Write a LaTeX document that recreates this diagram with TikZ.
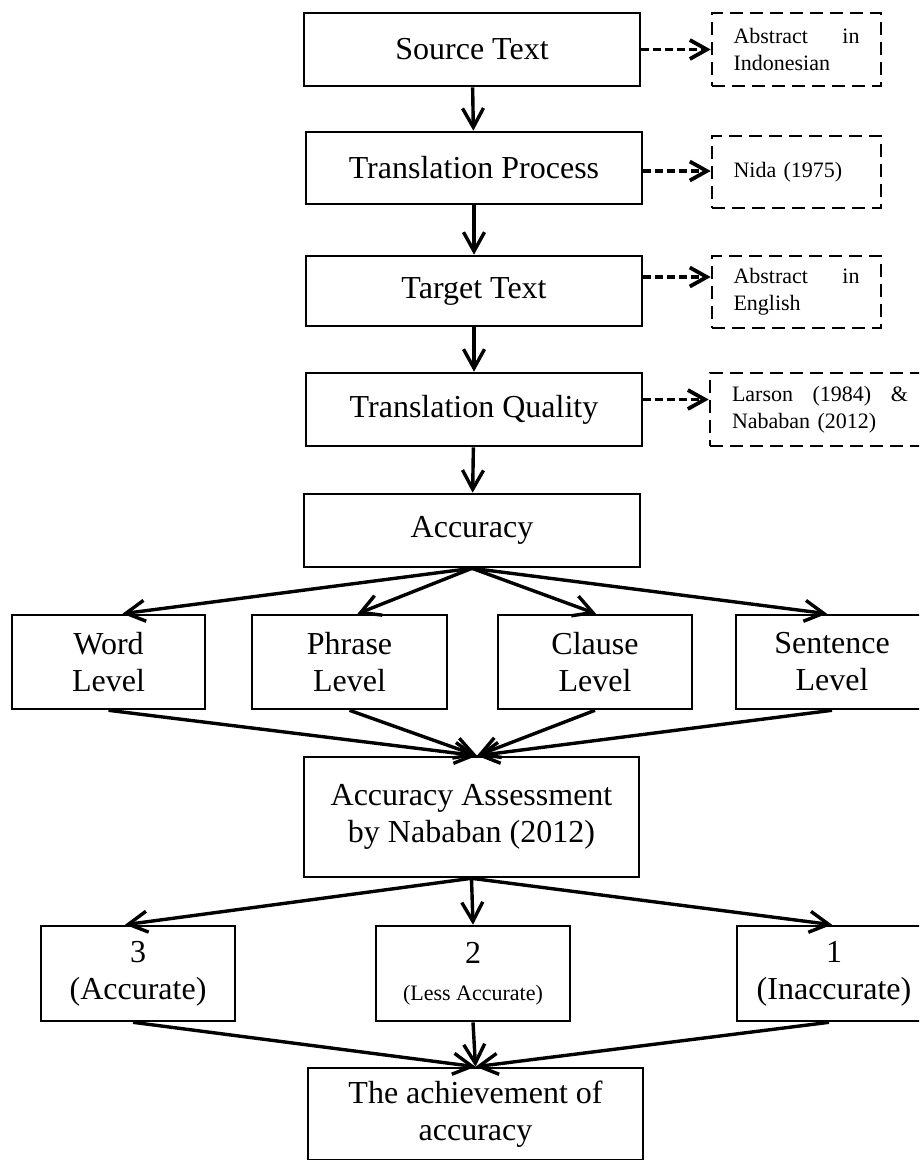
\documentclass[tikz,border=0pt]{standalone}
\usepackage{fontspec}
\setmainfont{Liberation Serif}
\usetikzlibrary{arrows.meta, calc}

\newcommand{\smalltxt}{\fontsize{22}{27}\selectfont}

\begin{document}
\begin{tikzpicture}[x=1pt, y=-1pt,
  box/.style={draw, line width=2.6pt, align=center, inner sep=0pt, font=\fontsize{32}{37}\selectfont},
  notebox/.style={draw, line width=2.6pt, dash pattern=on 13pt off 7pt, align=left, inner sep=0pt, font=\smalltxt},
  flow/.style={line width=3.4pt, -{Straight Barb[length=19pt, width=21pt]}},
  link/.style={line width=3.8pt, dash pattern=on 8pt off 4pt, -{Straight Barb[length=17pt, width=19pt]}}]
  \clip (0,0) rectangle (919,1160);

  % main column
  \node[box, minimum width=336, minimum height=73] (src) at (472,49.5) {Source Text};
  \node[box, minimum width=336, minimum height=72] (proc) at (474,168) {Translation Process};
  \node[box, minimum width=336, minimum height=70] (tgt) at (474,291) {Target Text};
  \node[box, minimum width=336, minimum height=73] (qual) at (474,409.5) {Translation Quality};
  \node[box, minimum width=336, minimum height=73] (acc) at (472,530.5) {Accuracy};

  % notes on the right
  \node[notebox, text width=126, minimum width=169, minimum height=73] (n1) at (796.5,49.5) {Abstract\hfill in\\Indonesian};
  \node[notebox, text width=126, minimum width=169, minimum height=72] (n2) at (796.5,172) {Nida (1975)};
  \node[notebox, text width=126, minimum width=169, minimum height=72] (n3) at (796.5,292) {Abstract\hfill in\\English};
  \node[notebox, text width=176, minimum width=220, minimum height=73] (n4) at (820,409.5) {Larson\hfill (1984)\hfill \&\\Nababan (2012)};

  % levels
  \node[box, minimum width=193, minimum height=94] (word) at (108.5,662) {Word\\Level};
  \node[box, minimum width=195, minimum height=94] (phrase) at (349.5,662) {Phrase\\Level};
  \node[box, minimum width=194, minimum height=94] (clause) at (595,662) {Clause\\Level};
  \node[box, minimum width=192, minimum height=94] (sent) at (832,662) {Sentence\\Level};

  \node[box, minimum width=335, minimum height=120] (assess) at (471.5,817) {Accuracy Assessment\\by Nababan (2012)};

  % scores
  \node[box, minimum width=194, minimum height=95] (three) at (138,973.5) {3\\(Accurate)};
  \node[box, minimum width=194, minimum height=95] (two) at (473,973.5) {2\\{\smalltxt (Less Accurate)}};
  \node[box, minimum width=194, minimum height=95] (one) at (834,973.5) {1\\(Inaccurate)};

  \node[box, minimum width=335, minimum height=92] (ach) at (475.5,1114) {The achievement of\\accuracy};

  \draw[flow] (src) -- (proc);
  \draw[flow] (proc) -- (tgt);
  \draw[flow] (tgt) -- (qual);
  \draw[flow] (qual) -- (acc);

  \draw[link] (src.east) -- (n1.west);
  \draw[link] ([yshift=-3]proc.east) -- ([yshift=-3]proc.east -| n2.west);
  \draw[link] ([yshift=14]tgt.east) -- ([yshift=14]tgt.east -| n3.west);
  \draw[link] ([yshift=10]qual.east) -- ([yshift=10]qual.east -| n4.west);

  \foreach \n/\dx in {word/14, phrase/8, clause/1, sent/-5}
    \draw[flow] (acc.south) -- ([xshift=\dx]\n.north);
  \foreach \n in {word, phrase, clause, sent}
    \draw[flow] (\n.south) -- ([xshift=5.5]assess.north);

  \draw[flow] (assess.south) -- ([xshift=-13]three.north);
  \draw[flow] (assess.south) -- (two.north);
  \draw[flow] (assess.south) -- ([xshift=-2]one.north);

  \draw[flow] ([xshift=-5]three.south) -- (ach.north);
  \draw[flow] (two.south) -- (ach.north);
  \draw[flow] ([xshift=-5]one.south) -- (ach.north);
\end{tikzpicture}
\end{document}
